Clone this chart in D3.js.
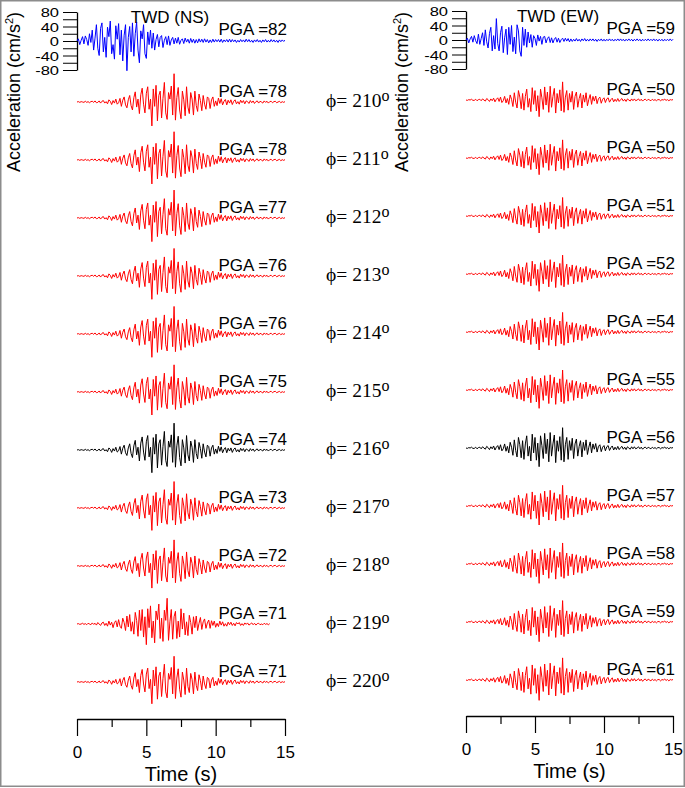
<!DOCTYPE html>
<html>
<head>
<meta charset="utf-8">
<script src="https://cdn.jsdelivr.net/npm/d3@7"></script>
<style>
  body { margin: 0; background: #fff; }
  svg { display: block; }
</style>
</head>
<body>
<div id="chart"></div>
<script>
// --- DATA (cm/s^2, one sample every 0.1 s) ---
const timeStep = 0.1;

const nsRecorded = [
  0, 6, -10, 2, 12, -8, 14, 4, -12, 20, -4,
  30, -25, 8, 45, -20, -40, 35, 50, -30, 10,
  -45, 38, 12, 55, -35, -10, -50, 42, 5, 48,
  -38, 30, -55, 16, 45, -82, 10, 40, -30, 50,
  -42, 20, 52, -25, -60, 28, 6, 45, -35, -48,
  25, -10, 30, -20, 22, -25, 4, 18, -16, 10,
  15, -18, 2, 12, -10, 14, -12, 3, 10, -8,
  8, -6, 10, -9, 2, 6, -7, 8, -3, 5,
  -6, 7, -4, 5, -6, 4, -5, 6, -3, 5,
  -4, 6, -3, 4, -5, 3, -4, 5, -3, 4,
  -2, 4, -3, 5, -4, 3, -2, 4, -3, 5,
  -3, 4, -2, 3, -4, 2, -3, 4, -2, 3,
  -3, 5, -2, 4, -3, 2, -4, 3, -2, 4,
  -3, 2, -4, 3, -2, 4, -3, 2, -3, 4,
  -2, 3, -3, 2, -4, 3, -2, 3, -1, 2
];

const ewRecorded = [
  0, 5, -8, 3, 10, -6, 12, -2, -10, 16, -12,
  4, 20, -15, 28, -5, -22, 18, 35, -30, 12,
  -25, 59, -10, -30, 20, 38, -35, 6, 30, -40,
  35, -12, 40, -32, 8, -38, 42, 25, -30, -45,
  35, -15, 30, -20, 22, -8, 15, -20, 12, 4,
  -15, 14, -3, 10, -12, 8, 10, -8, 4, 9,
  -7, 6, -8, 2, 7, -6, 5, -7, 1, 5,
  -4, 5, -3, 4, -5, 3, -4, 2, -3, 4,
  -3, 2, -4, 3, -2, 4, -3, 2, -3, 3,
  -2, 3, -3, 2, -4, 2, -2, 3, -3, 2,
  -3, 2, -2, 3, -2, 2, -3, 2, -2, 3,
  -2, 3, -2, 2, -3, 2, -2, 3, -2, 2,
  -3, 2, -2, 3, -2, 2, -3, 2, -2, 2,
  -2, 3, -2, 2, -2, 3, -2, 2, -3, 2,
  -2, 2, -3, 2, -2, 2, -2, 3, -2, 2
];

// rotated-component waveform shapes (peak is rescaled to each row's PGA)
const nsRotated = [
  0, 1, -1, 1, 0, -1, 2, -1, 1, -2, 1,
  2, -1, 3, -2, -1, 3, -3, 2, 4, -3,
  1, -5, 6, 2, -7, 4, -3, 8, -6, -2,
  10, -12, 5, 14, -8, -16, 6, 18, -10, -22,
  12, 28, -14, 8, -32, 20, 38, -6, -30, 24,
  42, -20, 8, -66, 36, -12, 46, -52, 18, 30,
  -44, 10, 54, -30, -48, 26, 8, 44, -36, 78,
  -50, 12, 40, -22, -46, 30, 6, -38, 42, -14,
  -32, 26, 8, -36, 30, -10, -26, 22, 4, -24,
  18, -6, -20, 14, 10, -18, 6, 14, -12, 3,
  -10, 11, -4, 9, -8, 2, 7, -8, 5, -3,
  6, -7, 2, 6, -5, 1, -6, 5, -2, 4,
  -5, 3, 1, -4, 4, -2, 3, -4, 1, 3,
  -3, 2, 0, -3, 3, -1, 2, -3, 1, 2,
  -2, 1, 2, -2, 0, 2, -2, 1, -1, 1
];

const ns219 = [
  0, 1, -1, 0, 2, -1, 1, -2, 2, 0, -2,
  3, -1, 2, -3, 4, 0, -4, 3, 5, -4,
  2, -6, 8, -3, 5, -10, 4, 9, -8, 12,
  -6, -12, 16, 4, -18, 22, -8, 26, -20, 6,
  -28, 32, 10, -34, 38, -18, 40, -36, 20, -57,
  42, -10, 50, -38, 8, -52, 36, 12, 55, -40,
  16, -48, 38, 10, 71, -45, 6, 40, -42, 20,
  35, -40, 8, -36, 42, -14, 30, -30, 6, -32,
  24, 4, -28, 20, -10, 22, -18, 2, 18, -15,
  6, 14, -12, 3, 11, -12, 9, -4, 8, -9,
  2, -7, 8, -3, 6, -6, 1, -6, 5, -2,
  5, -4, 2, -5, 4, 0, 4, -4, 1, -4,
  3, -1, 3, -3, 0, 3, -2, 2, -3, 1,
  2, -2, 0, -2, 2, -1, 1, -2, 1
];

const ewRotated = [
  0, -1, 1, 0, 2, -1, -1, 2, -2, 1, 2,
  -2, 3, 0, -3, 4, 1, -4, 3, -2, 5,
  -5, 2, 6, -4, 8, -7, -2, 10, -8, 4,
  -12, 14, 2, -18, 20, -6, -22, 26, 8, -24,
  18, -28, 10, 30, -20, 4, -32, 34, -12, 26,
  -30, 12, -46, 30, 6, -26, 36, -14, 22, -34,
  38, -20, 10, 32, -36, 18, -8, 28, -30, 50,
  -34, 8, 26, -28, 18, -6, 24, -26, 10, 22,
  -20, 4, 18, -22, 14, -6, 20, -16, 2, 15,
  -12, 10, -3, 11, -10, 4, 8, -9, 2, 6,
  -7, 3, 6, -6, 1, 5, -5, 2, -4, 4,
  -4, 1, 4, -3, 2, -4, 3, 0, -3, 3,
  -2, 3, -2, 0, 3, -2, 2, -3, 1, 2,
  -2, 2, 0, -2, 2, -1, 1, -2, 1, 1,
  -2, 1, 0, 2, -1, 1, -2, 1, 0, 1
];

const angles = [210, 211, 212, 213, 214, 215, 216, 217, 218, 219, 220];
const pgaNS = [78, 78, 77, 76, 76, 75, 74, 73, 72, 71, 71];
const pgaEW = [50, 50, 51, 52, 54, 55, 56, 57, 58, 59, 61];
const highlightAngle = 216;
const yTicks = [-80, -60, -40, -20, 0, 20, 40, 60, 80];
const timeTicks = [0, 5, 10, 15];
const timeMinor = [2.5, 7.5, 12.5];

// --- DRAW ---
const width = 685, height = 788;
const svg = d3.select("#chart").append("svg")
    .attr("width", width).attr("height", height);

svg.append("rect")
    .attr("x", 0.75).attr("y", 0.75)
    .attr("width", width - 1.5).attr("height", height - 2.5)
    .attr("fill", "none").attr("stroke", "#8c8c8c").attr("stroke-width", 1.5);

const sans = "'Liberation Sans', Arial, sans-serif";
const serif = "'Liberation Serif', 'DejaVu Serif', 'Times New Roman', serif";

function drawPanel(p) {
  const x = d3.scaleLinear().domain([0, 15]).range([p.x0, p.x1]);
  const yAxisScale = d3.scaleLinear().domain([-80, 80]).range([p.yBottom, p.yTop]);
  // same cm/s^2 -> px factor for every trace, relative to its baseline
  const half = (p.yBottom - p.yTop) / 2;
  const yRel = d3.scaleLinear().domain([-80, 80]).range([half, -half]);
  const line = (arr, k) => d3.line()
      .x((d, i) => x(i * timeStep))
      .y(d => yRel(d * k))(arr);

  const g = svg.append("g");

  // y axis on the recorded trace
  const yAx = g.append("g")
      .attr("transform", `translate(${p.x0},0)`)
      .call(d3.axisLeft(yAxisScale).tickValues(yTicks).tickSize(14).tickSizeOuter(0).tickPadding(4)
        .tickFormat(d => d % 40 === 0 ? d : ""));
  yAx.select(".domain").attr("stroke-width", 1.3);
  yAx.selectAll(".tick line").attr("stroke-width", 1);
  yAx.selectAll(".tick text")
      .attr("font-family", sans).attr("font-size", 16.5).attr("fill", "#000")
      .attr("dy", null)
      .attr("y", 0)
      .attr("transform", `translate(0,${0.36 * 16.5 * 0.8}) scale(1,0.8)`);

  g.append("text")
      .attr("transform", `translate(${p.labelX},${p.labelY}) rotate(-90)`)
      .attr("text-anchor", "middle")
      .attr("font-family", sans).attr("font-size", 18)
      .call(t => {
        t.append("tspan").text("Acceleration (cm/s");
        t.append("tspan").attr("font-size", 11).attr("dy", -7).text("2");
        t.append("tspan").attr("dy", 7).text(")");
      });

  // recorded trace
  const rec = g.append("g").attr("transform", `translate(0,${p.recBase})`);
  rec.append("path").attr("d", line(p.recorded, 1))
      .attr("fill", "none").attr("stroke", "#0000ff").attr("stroke-width", 1);
  g.append("text")
      .attr("x", p.titleX).attr("y", p.recBase - 18)
      .attr("text-anchor", "middle")
      .attr("font-family", sans).attr("font-size", 17)
      .text(p.title);
  g.append("text")
      .attr("x", p.x1 + 2).attr("y", p.recBase - 6)
      .attr("text-anchor", "end")
      .attr("font-family", sans).attr("font-size", 17)
      .text("PGA =" + p.recPGA);

  // rotated traces
  const rows = g.selectAll("g.row")
    .data(angles.map((a, i) => ({ angle: a, pga: p.pga[i], shape: p.shapeFor(a) })))
    .join("g")
      .attr("class", "row")
      .attr("transform", (d, i) => `translate(0,${p.rowBase + i * p.rowStep})`);

  rows.append("path")
      .attr("d", d => line(d.shape, d.pga / d3.max(d.shape, v => Math.abs(v))))
      .attr("fill", "none")
      .attr("stroke", d => d.angle === highlightAngle ? "#000" : "#ff0000")
      .attr("stroke-width", 1);

  rows.append("text")
      .attr("x", p.x1 + 2).attr("y", -5)
      .attr("text-anchor", "end")
      .attr("font-family", sans).attr("font-size", 17)
      .text(d => "PGA =" + d.pga);

  // time axis
  const xAx = g.append("g")
      .attr("transform", `translate(0,${p.axisY})`)
      .call(d3.axisBottom(x).tickValues(timeTicks).tickSize(17).tickSizeOuter(0).tickPadding(10));
  xAx.select(".domain").attr("stroke-width", 1.6);
  xAx.selectAll(".tick line").attr("stroke-width", 1.2);
  xAx.selectAll(".tick text").attr("font-family", sans).attr("font-size", 17).attr("fill", "#000");
  g.append("g")
      .attr("transform", `translate(0,${p.axisY})`)
      .call(d3.axisBottom(x).tickValues(timeMinor).tickSize(8).tickFormat(""))
      .call(a => a.select(".domain").remove())
      .selectAll(".tick line").attr("stroke-width", 1.2);

  g.append("text")
      .attr("x", (p.x0 + p.x1) / 2).attr("y", p.axisY + 62)
      .attr("text-anchor", "middle")
      .attr("font-family", sans).attr("font-size", 20)
      .text("Time (s)");
}

drawPanel({
  x0: 77, x1: 285, yTop: 12, yBottom: 70, recBase: 41,
  rowBase: 102, rowStep: 58, axisY: 719,
  labelX: 20, labelY: 92, titleX: 170,
  title: "TWD (NS)", recorded: nsRecorded, recPGA: 82, pga: pgaNS,
  shapeFor: a => a === 219 ? ns219 : nsRotated
});

drawPanel({
  x0: 466, x1: 673, yTop: 11, yBottom: 69, recBase: 40,
  rowBase: 100, rowStep: 58, axisY: 716,
  labelX: 408, labelY: 92, titleX: 558,
  title: "TWD (EW)", recorded: ewRecorded, recPGA: 59, pga: pgaEW,
  shapeFor: a => ewRotated
});

// rotation angle labels
svg.append("g").selectAll("text")
  .data(angles)
  .join("text")
    .attr("x", 326)
    .attr("y", (d, i) => 107 + i * 58)
    .attr("font-family", serif).attr("font-size", 19.5)
    .call(t => {
      t.append("tspan").text(d => "\u03D5= " + d);
      t.append("tspan").attr("font-size", 16).attr("dy", -6).text("o");
    });
</script>
</body>
</html>
